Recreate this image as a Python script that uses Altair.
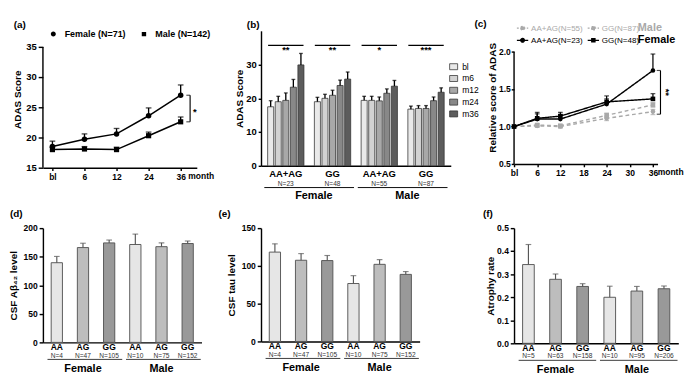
import altair as alt
import pandas as pd

FONT = "Liberation Sans"
BLACK = "#000000"
GRAY = "#a9a9a9"

# custom legend symbols: short line with a marker
PATH_CIRCLE = "M-1,0H1M0.33,0A0.33,0.33,0,1,1,-0.33,0A0.33,0.33,0,1,1,0.33,0Z"
PATH_SQUARE = "M-1,0H1M-0.29,-0.29H0.29V0.29H-0.29Z"
PATH_RECT = "M-1,-0.75H1V0.75H-1Z"

# ---------------- data: panel (a)
a_months = ["bl", "6", "12", "24", "36"]
a_series = ["Female (N=71)", "Male (N=142)"]
a_female_mean = [18.5, 19.7, 20.6, 23.6, 27.0]
a_female_upper = [19.4, 20.6, 21.5, 24.9, 28.7]
a_male_mean = [18.0, 18.1, 18.0, 20.3, 22.6]
a_male_upper = [18.4, 18.5, 18.4, 20.9, 23.4]
a_yticks = [15, 20, 25, 30, 35]
a_sig = "*"

# ---------------- data: panel (b)
b_groups = ["F_AA+AG", "F_GG", "M_AA+AG", "M_GG"]
b_group_n = ["N=23", "N=48", "N=55", "N=87"]
b_times = ["bl", "m6", "m12", "m24", "m36"]
b_colors = ["#e9e9e9", "#d2d2d2", "#a8a8a8", "#888888", "#5c5c5c"]
b_f_aaag_mean = [17.5, 19.0, 19.4, 23.3, 29.9]
b_f_aaag_upper = [19.3, 20.6, 21.6, 25.6, 33.3]
b_f_gg_mean = [19.0, 20.0, 20.9, 23.8, 25.7]
b_f_gg_upper = [20.3, 21.2, 22.4, 25.4, 27.8]
b_m_aaag_mean = [19.4, 19.4, 19.25, 21.5, 23.6]
b_m_aaag_upper = [20.6, 20.6, 20.4, 22.8, 25.3]
b_m_gg_mean = [16.8, 17.0, 17.0, 19.3, 21.8]
b_m_gg_upper = [17.7, 17.85, 17.85, 20.4, 23.1]
b_sig = ["**", "**", "*", "***"]
b_sig_level = 35.7
b_yticks = [0, 10, 20, 30]
sexes = ["Female", "Male"]

# ---------------- data: panel (c)
c_xcats = ["bl", "6", "12", "18", "24", "30", "36"]
c_months = ["bl", "6", "12", "24", "36"]
c_series = ["AA+AG(N=55)", "GG(N=87)", "AA+AG(N=23)", "GG(N=48)"]
c_series_color = [GRAY, GRAY, BLACK, BLACK]
c_m_aaag_mean = [1.00, 1.01, 1.00, 1.11, 1.20]
c_m_aaag_upper = [1.00, 1.03, 1.02, 1.14, 1.23]
c_m_aaag_lower = [1.00, 0.99, 0.98, 1.08, 1.16]
c_m_gg_mean = [1.00, 1.02, 1.01, 1.15, 1.29]
c_m_gg_upper = [1.00, 1.04, 1.03, 1.18, 1.32]
c_m_gg_lower = [1.00, 1.00, 0.99, 1.12, 1.26]
c_f_aaag_mean = [1.00, 1.10, 1.10, 1.30, 1.75]
c_f_aaag_upper = [1.00, 1.17, 1.16, 1.37, 1.97]
c_f_gg_mean = [1.00, 1.11, 1.14, 1.33, 1.37]
c_f_gg_upper = [1.00, 1.19, 1.19, 1.41, 1.44]
c_yticks = [0.5, 1.0, 1.5, 2.0]
c_ymax = 2.28
c_sig = "**"
c_bracket_low = 1.165

# ---------------- data: panels (d)(e)(f)
g_groups = ["F_AA", "F_AG", "F_GG", "M_AA", "M_AG", "M_GG"]
g_genos = ["AA", "AG", "GG"]
g_colors = ["#e6e6e6", "#bdbdbd", "#999999"]
d_n = ["N=4", "N=47", "N=105", "N=10", "N=75", "N=152"]
d_mean = [139.5, 166.0, 174.2, 171.4, 167.6, 173.1]
d_upper = [150.5, 173.6, 179.2, 189.6, 174.2, 177.5]
d_yticks = [0, 50, 100, 150, 200]
e_n = ["N=4", "N=47", "N=105", "N=10", "N=75", "N=152"]
e_mean = [118.3, 107.5, 107.1, 76.7, 102.1, 88.8]
e_upper = [129.2, 116.3, 113.8, 87.1, 108.3, 92.5]
e_yticks = [0, 50, 100, 150]
f_n = ["N=5", "N=63", "N=158", "N=10", "N=95", "N=206"]
f_mean = [0.342, 0.278, 0.247, 0.200, 0.227, 0.237]
f_upper = [0.429, 0.301, 0.259, 0.248, 0.247, 0.249]
f_yticks = [0.0, 0.1, 0.2, 0.3, 0.4, 0.5]


# =============== panel (a)
def ax_a(field="month:N"):
    return alt.X(field, sort=a_months,
                 scale=alt.Scale(domain=a_months, type="point", padding=0.4, align=0.37),
                 axis=alt.Axis(title=None, labelAngle=0, labelFontSize=9, tickSize=3, labelPadding=2,
                               labelOverlap=False))


def ay_a(field):
    return alt.Y(field, title="ADAS Score",
                 scale=alt.Scale(domain=[15, 37.66], nice=False, zero=False),
                 axis=alt.Axis(values=a_yticks, domain=False, labelFontSize=10, tickSize=5,
                               labelPadding=2, titlePadding=4, labelOverlap=False))


a_df = pd.DataFrame({
    "month": a_months * 2,
    "series": [a_series[0]] * 5 + [a_series[1]] * 5,
    "mean": a_female_mean + a_male_mean,
    "upper": a_female_upper + a_male_upper,
})
a_base = alt.Chart(a_df)
a_axisline = alt.Chart(pd.DataFrame({"lo": [a_yticks[0]], "hi": [a_yticks[-1]]})).mark_rule(
    color=BLACK, strokeWidth=1.5).encode(x=alt.value(0), y=ay_a("lo:Q"), y2="hi:Q")
a_line = a_base.mark_line(color=BLACK, strokeWidth=1.6).encode(x=ax_a(), y=ay_a("mean:Q"), detail="series:N")
a_err = a_base.mark_rule(color=BLACK, strokeWidth=1.4).encode(x=ax_a(), y=ay_a("mean:Q"), y2="upper:Q")
a_cap = a_base.mark_tick(color=BLACK, thickness=1.4, size=6).encode(x=ax_a(), y=ay_a("upper:Q"))
a_pf = a_base.transform_filter(alt.datum.series == a_series[0]).mark_point(
    shape="circle", filled=True, size=34, color=BLACK, opacity=1).encode(x=ax_a(), y=ay_a("mean:Q"))
a_pm = a_base.transform_filter(alt.datum.series == a_series[1]).mark_point(
    shape="square", filled=True, size=30, color=BLACK, opacity=1).encode(x=ax_a(), y=ay_a("mean:Q"))
a_br_df = pd.DataFrame({"month": [a_months[-1]], "top": [a_female_mean[-1]], "bot": [a_male_mean[-1]],
                        "mid": [(a_female_mean[-1] + a_male_mean[-1]) / 2], "sig": [a_sig]})
a_br = alt.Chart(a_br_df)
a_br_v = a_br.mark_rule(color=BLACK, strokeWidth=1.2, xOffset=10).encode(x=ax_a(), y=ay_a("top:Q"), y2="bot:Q")
a_br_t1 = a_br.mark_tick(color=BLACK, thickness=1.2, size=4, xOffset=8).encode(x=ax_a(), y=ay_a("top:Q"))
a_br_t2 = a_br.mark_tick(color=BLACK, thickness=1.2, size=4, xOffset=8).encode(x=ax_a(), y=ay_a("bot:Q"))
a_star = a_br.mark_text(color=BLACK, fontSize=10, fontWeight="bold", dx=15, dy=4).encode(
    x=ax_a(), y=ay_a("mid:Q"), text="sig:N")
a_month = alt.Chart(pd.DataFrame({"month": [a_months[-1]], "v": [a_yticks[0]], "t": ["month"]})).mark_text(
    align="left", baseline="top", dx=8, dy=5, fontSize=9, fontWeight="bold", color=BLACK).encode(
    x=ax_a(), y=ay_a("v:Q"), text="t:N")
a_leg = a_base.transform_filter("false").mark_point(filled=True, color=BLACK, opacity=1).encode(
    shape=alt.Shape("series:N", scale=alt.Scale(domain=a_series, range=[PATH_CIRCLE, PATH_SQUARE]),
                    legend=alt.Legend(title=None, orient="none", legendX=2, legendY=-6, direction="horizontal",
                                      symbolSize=256, symbolStrokeColor=BLACK, symbolStrokeWidth=1.4,
                                      labelFontSize=9.5, labelFontWeight="bold", labelColor=BLACK,
                                      columnPadding=8, labelOffset=3)))
panel_a = alt.layer(a_axisline, a_line, a_err, a_cap, a_pf, a_pm, a_br_v, a_br_t1, a_br_t2, a_star,
                    a_month, a_leg).properties(
    width=163, height=145,
    title=alt.TitleParams("(a)", anchor="start", frame="group", dx=-31, offset=2, dy=8))


# =============== panel (b)
def bx(field, bp=None):
    kw = {}
    if bp is not None:
        kw["bandPosition"] = bp
    return alt.X(field, sort=b_groups,
                 scale=alt.Scale(domain=b_groups, paddingInner=0, paddingOuter=0.03),
                 axis=alt.Axis(title=None, labelExpr="split(datum.value, '_')[1]", labelAngle=0,
                               ticks=False, labelFontSize=10, labelPadding=3, labelOverlap=False), **kw)


def by(field):
    return alt.Y(field, title="ADAS Score", scale=alt.Scale(domain=[0, 40], nice=False),
                 axis=alt.Axis(values=b_yticks, labelFontSize=10, tickSize=3, labelPadding=2, titlePadding=2,
                               labelOverlap=False))


b_means = [b_f_aaag_mean, b_f_gg_mean, b_m_aaag_mean, b_m_gg_mean]
b_uppers = [b_f_aaag_upper, b_f_gg_upper, b_m_aaag_upper, b_m_gg_upper]
b_rows = []
for g, ms, us in zip(b_groups, b_means, b_uppers):
    for t, m, u in zip(b_times, ms, us):
        b_rows.append({"grp": g, "time": t, "mean": m, "upper": u})
b_df = pd.DataFrame(b_rows)
b_xoff = alt.XOffset("time:N", sort=b_times,
                     scale=alt.Scale(domain=b_times, paddingInner=0.2, paddingOuter=0.69))
b_base = alt.Chart(b_df)
b_bars = b_base.mark_bar(stroke="#333333", strokeWidth=0.8).encode(
    x=bx("grp:N"), xOffset=b_xoff, y=by("mean:Q"),
    color=alt.Color("time:N", sort=b_times, scale=alt.Scale(domain=b_times, range=b_colors),
                    legend=alt.Legend(title=None, orient="none", legendX=199, legendY=33,
                                      direction="vertical", symbolType=PATH_RECT, symbolSize=72,
                                      symbolStrokeColor="#333333", symbolStrokeWidth=0.8,
                                      labelFontSize=9, labelColor=BLACK, rowPadding=2.5, labelOffset=4)))
b_err = b_base.mark_rule(color=BLACK, strokeWidth=1.4).encode(
    x=bx("grp:N"), xOffset=b_xoff, y=by("mean:Q"), y2="upper:Q")
b_cap = b_base.mark_tick(color=BLACK, thickness=1.4, size=4).encode(
    x=bx("grp:N"), xOffset=b_xoff, y=by("upper:Q"))
b_sig_df = pd.DataFrame({"grp": b_groups, "sig": b_sig, "level": [b_sig_level] * 4, "n": b_group_n,
                         "zero": [0] * 4})
b_sigc = alt.Chart(b_sig_df)
b_sig_line = b_sigc.mark_rule(color=BLACK, strokeWidth=1.5, xOffset=6, x2Offset=-6).encode(
    x=bx("grp:N", 0), x2=alt.X2("grp:N", bandPosition=1), y=by("level:Q"))
b_sig_txt = b_sigc.mark_text(color=BLACK, fontSize=10, fontWeight="bold", dy=5).encode(
    x=bx("grp:N"), y=by("level:Q"), text="sig:N")
b_ntxt = b_sigc.mark_text(color="#333333", fontSize=7, dy=21, baseline="alphabetic").encode(
    x=bx("grp:N"), y=by("zero:Q"), text="n:N")
b_sex_df = pd.DataFrame({"start": [b_groups[0], b_groups[2]], "end": [b_groups[1], b_groups[3]],
                         "label": sexes, "zero": [0, 0]})
b_sexc = alt.Chart(b_sex_df)
b_under = b_sexc.mark_rule(color=BLACK, strokeWidth=1, yOffset=23, xOffset=2, x2Offset=-2).encode(
    x=bx("start:N", 0), x2=alt.X2("end:N", bandPosition=1), y=by("zero:Q"))
b_sextxt = b_sexc.mark_text(color=BLACK, fontSize=11.5, fontWeight="bold", dy=35, dx=5,
                            baseline="alphabetic").encode(
    x=bx("start:N", 1), y=by("zero:Q"), text="label:N")
panel_b = alt.layer(b_bars, b_err, b_cap, b_sig_line, b_sig_txt, b_ntxt, b_under, b_sextxt).properties(
    width=201, height=143,
    title=alt.TitleParams("(b)", anchor="start", frame="group", dx=-15, offset=1))


# =============== panel (c)
def cx(field):
    return alt.X(field, sort=c_xcats,
                 scale=alt.Scale(domain=c_xcats, type="point", padding=0.1, align=0),
                 axis=alt.Axis(title=None, labelAngle=0, labelFontSize=9, tickSize=3, labelPadding=2,
                               labelOverlap=False))


def cy(field):
    return alt.Y(field, title="Relative score of ADAS",
                 scale=alt.Scale(domain=[0.5, c_ymax], nice=False, zero=False),
                 axis=alt.Axis(values=c_yticks, domain=False, labelFontSize=9,
                               tickSize=3, labelPadding=1, titlePadding=1, labelOverlap=False))


c_rows = []
c_all = [
    (c_series[0], "Male", "circle", c_m_aaag_mean, c_m_aaag_lower, c_m_aaag_upper),
    (c_series[1], "Male", "square", c_m_gg_mean, c_m_gg_lower, c_m_gg_upper),
    (c_series[2], "Female", "circle", c_f_aaag_mean, c_f_aaag_mean, c_f_aaag_upper),
    (c_series[3], "Female", "square", c_f_gg_mean, c_f_gg_mean, c_f_gg_upper),
]
for s, sx, shp, ms, lo, hi in c_all:
    for mo, m, l, h in zip(c_months, ms, lo, hi):
        c_rows.append({"month": mo, "series": s, "sex": sx, "shape": shp, "mean": m, "lo": l, "hi": h})
c_df = pd.DataFrame(c_rows)
c_base = alt.Chart(c_df)
c_layers = [alt.Chart(pd.DataFrame({"lo": [c_yticks[0]], "hi": [c_yticks[-1]]})).mark_rule(
    color=BLACK, strokeWidth=1.5).encode(x=alt.value(0), y=cy("lo:Q"), y2="hi:Q")]
for sx, col, dash in [("Male", GRAY, [4, 3]), ("Female", BLACK, [1, 0])]:
    sub = c_base.transform_filter(alt.datum.sex == sx)
    c_layers.append(sub.mark_line(color=col, strokeWidth=1.5, strokeDash=dash).encode(
        x=cx("month:N"), y=cy("mean:Q"), detail="series:N"))
    c_layers.append(sub.mark_rule(color=col, strokeWidth=1.3).encode(
        x=cx("month:N"), y=cy("lo:Q"), y2="hi:Q"))
    c_layers.append(sub.mark_tick(color=col, thickness=1.3, size=5, orient="horizontal").encode(
        x=cx("month:N"), y=cy("hi:Q")))
    if sx == "Male":
        c_layers.append(sub.mark_tick(color=col, thickness=1.3, size=5, orient="horizontal").encode(
            x=cx("month:N"), y=cy("lo:Q")))
    for shp in ["circle", "square"]:
        c_layers.append(sub.transform_filter(alt.datum.shape == shp).mark_point(
            shape=shp, filled=True, size=24, color=col, opacity=1).encode(x=cx("month:N"), y=cy("mean:Q")))
c_br_df = pd.DataFrame({"m": [c_months[-1]], "top": [c_f_aaag_mean[-1]], "bot": [c_bracket_low],
                        "mid": [(c_f_aaag_mean[-1] + c_bracket_low) / 2], "sig": [c_sig],
                        "v": [c_yticks[0]], "t": ["month"]})
c_br = alt.Chart(c_br_df)
c_layers += [
    c_br.mark_rule(color=BLACK, strokeWidth=1.2, xOffset=8).encode(x=cx("m:N"), y=cy("top:Q"), y2="bot:Q"),
    c_br.mark_tick(color=BLACK, thickness=1.2, size=4, xOffset=6, orient="horizontal").encode(
        x=cx("m:N"), y=cy("top:Q")),
    c_br.mark_tick(color=BLACK, thickness=1.2, size=4, xOffset=6, orient="horizontal").encode(
        x=cx("m:N"), y=cy("bot:Q")),
    c_br.mark_text(color=BLACK, fontSize=10, fontWeight="bold", angle=90, xOffset=14).encode(
        x=cx("m:N"), y=cy("mid:Q"), text="sig:N"),
    c_br.mark_text(color=BLACK, fontSize=9, fontWeight="bold", align="left", baseline="top",
                   dx=5, dy=5).encode(x=cx("m:N"), y=cy("v:Q"), text="t:N"),
]
# sex words next to the two legend rows
c_sexword = pd.DataFrame({"m": [c_months[-1]] * 2, "top": [c_ymax] * 2, "label": ["Male", "Female"]})
for i, (col, ddy) in enumerate([(GRAY, 0), (BLACK, 13)]):
    c_layers.append(alt.Chart(c_sexword.iloc[[i]]).mark_text(
        color=col, fontSize=11.5, fontWeight="bold", align="left", baseline="alphabetic", dx=-16,
        dy=ddy).encode(x=cx("m:N"), y=cy("top:Q"), text="label:N"))
# one legend with the four series (first row male, second row female)
c_leg_common = dict(
    title=None, orient="none", legendX=2, legendY=-10, direction="horizontal", columns=2,
    symbolSize=144, symbolStrokeWidth=1.3, labelFontSize=8.5, columnPadding=2,
    rowPadding=1, labelOffset=2, padding=0,
    labelColor=alt.ExprRef("indexof(datum.label, 'N=55') >= 0 || indexof(datum.label, 'N=87') >= 0"
                           " ? '%s' : '%s'" % (GRAY, BLACK)))
c_layers.append(c_base.transform_filter("false").mark_point(filled=True, opacity=1).encode(
    shape=alt.Shape("series:N", scale=alt.Scale(domain=c_series, range=[PATH_CIRCLE, PATH_SQUARE] * 2),
                    legend=alt.Legend(**c_leg_common)),
    color=alt.Color("series:N", scale=alt.Scale(domain=c_series, range=c_series_color),
                    legend=alt.Legend(**c_leg_common)),
    stroke=alt.Stroke("series:N", scale=alt.Scale(domain=c_series, range=c_series_color),
                      legend=alt.Legend(**c_leg_common)),
    strokeDash=alt.StrokeDash("series:N", scale=alt.Scale(domain=c_series,
                                                          range=[[2, 1.5], [2, 1.5], [1, 0], [1, 0]]),
                              legend=alt.Legend(**c_leg_common)),
))
panel_c = alt.layer(*c_layers).properties(
    width=152, height=141,
    title=alt.TitleParams("(c)", anchor="start", frame="group", dx=-42, offset=2, dy=10))


# =============== panels (d)(e)(f)
def geno_panel(letter, n_labels, means, uppers, ydomain, yticks, ytitle, w, h, title_dx, tpad):
    df = pd.DataFrame({"grp": g_groups, "geno": [g.split("_")[1] for g in g_groups],
                       "mean": means, "upper": uppers, "n": n_labels, "zero": [0] * 6})

    def gx(field, bp=None):
        kw = {}
        if bp is not None:
            kw["bandPosition"] = bp
        return alt.X(field, sort=g_groups,
                     scale=alt.Scale(domain=g_groups, paddingInner=0, paddingOuter=0.03),
                     axis=alt.Axis(title=None, labelExpr="split(datum.value, '_')[1]", labelAngle=0,
                                   ticks=False, labelFontSize=9, labelPadding=1, labelOverlap=False), **kw)

    def gy(field):
        return alt.Y(field, title=ytitle, scale=alt.Scale(domain=ydomain, nice=False),
                     axis=alt.Axis(values=yticks, labelFontSize=9, tickSize=4,
                                   labelPadding=2, titlePadding=tpad, labelOverlap=False))

    base = alt.Chart(df)
    bars = base.mark_bar(stroke="#555555", strokeWidth=1, width={"band": 0.43}).encode(
        x=gx("grp:N"), y=gy("mean:Q"),
        color=alt.Color("geno:N", scale=alt.Scale(domain=g_genos, range=g_colors), legend=None))
    err = base.mark_rule(color="#555555", strokeWidth=1.2).encode(x=gx("grp:N"), y=gy("mean:Q"), y2="upper:Q")
    cap = base.mark_tick(color="#555555", thickness=1.2, size=6).encode(x=gx("grp:N"), y=gy("upper:Q"))
    ntxt = base.mark_text(color="#333333", fontSize=7, dy=16, baseline="alphabetic").encode(
        x=gx("grp:N"), y=gy("zero:Q"), text="n:N")
    sex_df = pd.DataFrame({"start": [g_groups[0], g_groups[3]], "mid": [g_groups[1], g_groups[4]],
                           "end": [g_groups[2], g_groups[5]], "label": sexes, "zero": [0, 0]})
    sc = alt.Chart(sex_df)
    under = sc.mark_rule(color="#333333", strokeWidth=1, yOffset=18, xOffset=4).encode(
        x=gx("start:N", 0), x2=alt.X2("end:N", bandPosition=1), y=gy("zero:Q"))
    stxt = sc.mark_text(color=BLACK, fontSize=11.5, fontWeight="bold", dy=31, baseline="alphabetic").encode(
        x=gx("mid:N"), y=gy("zero:Q"), text="label:N")
    return alt.layer(bars, err, cap, ntxt, under, stxt).properties(
        width=w, height=h,
        title=alt.TitleParams(letter, anchor="start", frame="group", dx=title_dx, offset=5))


panel_d = geno_panel("(d)", d_n, d_mean, d_upper, [0, 200], d_yticks, "CSF Aβ₄₂ level",
                     168, 121, -35, 5)
panel_e = geno_panel("(e)", e_n, e_mean, e_upper, [0, 150], e_yticks, "CSF tau level",
                     168, 120, -45, 5)
panel_f = geno_panel("(f)", f_n, f_mean, f_upper, [0, 0.5], f_yticks, "Atrophy rate",
                     174, 122, -33, 1)


def spacer(w):
    return alt.Chart(pd.DataFrame({"v": [0]})).mark_point(size=0, opacity=0).encode(
        x=alt.X("v:Q", axis=None), y=alt.Y("v:Q", axis=None)).properties(width=w, height=10)


chart = alt.concat(
    spacer(1), panel_a, spacer(19), panel_b, spacer(47), panel_c,
    spacer(5), panel_d, spacer(43), panel_e, spacer(34), panel_f,
    columns=6, bounds="flush", align={"row": "all", "column": "none"},
    spacing={"row": 64, "column": 10},
).resolve_scale(color="independent", shape="independent", stroke="independent",
                strokeDash="independent").properties(padding=0).configure(
    font=FONT).configure_view(strokeWidth=0).configure_axis(
    domainColor=BLACK, domainWidth=1.5, tickColor=BLACK, tickWidth=1.5, labelColor=BLACK,
    labelFontWeight="bold", titleFontWeight="bold", titleFontSize=10.5, titleColor=BLACK, grid=False,
    labelFont=FONT, titleFont=FONT
).configure_title(font=FONT, fontSize=10.5, fontWeight="bold", color=BLACK).configure_legend(
    labelFont=FONT, titleFont=FONT)

chart.save("out.html", embed_options={"renderer": "svg", "actions": False})
